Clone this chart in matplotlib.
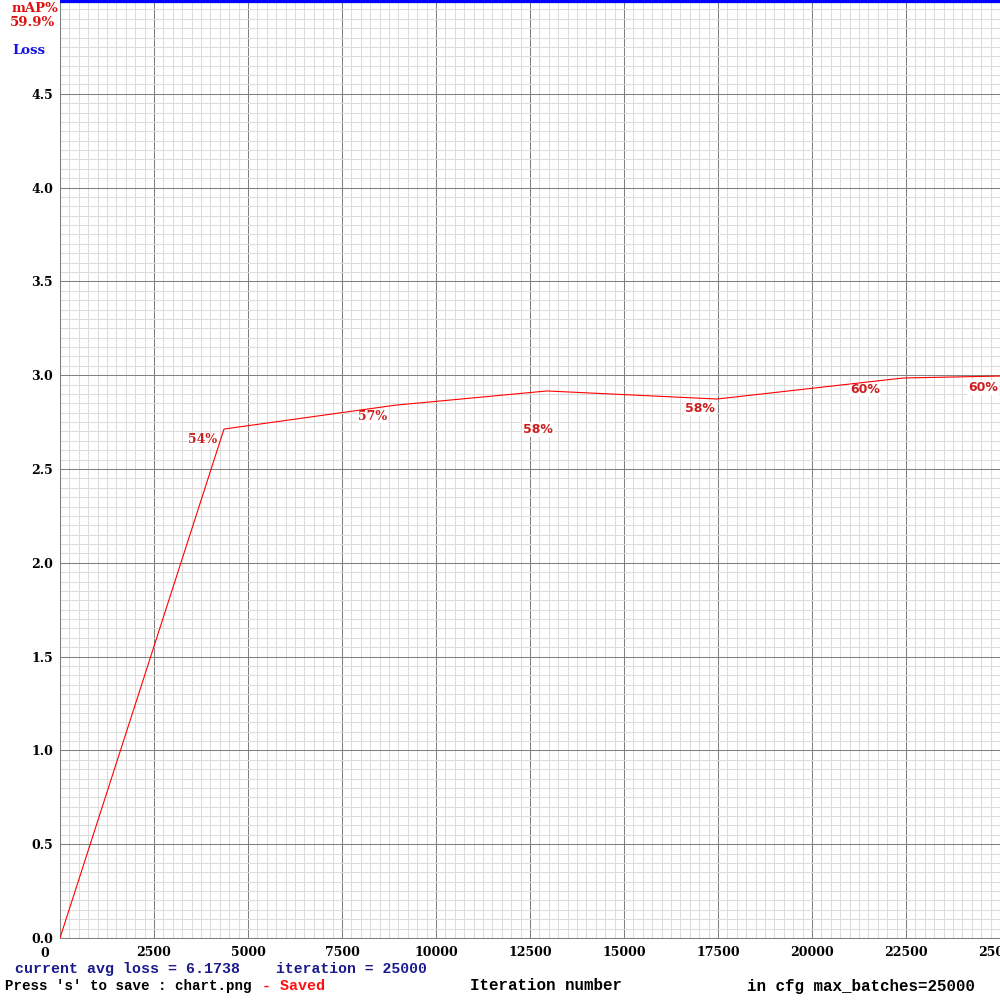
import numpy as np
import matplotlib
matplotlib.use("Agg")
import matplotlib.pyplot as plt
from matplotlib.ticker import MultipleLocator

# mAP checkpoints (iteration, mAP in %)
map_iters = [0, 4362, 8910, 12952, 17473, 22420, 25000]
map_vals = [0.0, 54.26, 56.8, 58.32, 57.46, 59.70, 59.91]

# percentage labels drawn next to the curve (iteration, height in mAP %)
label_text = ["54%", "57%", "58%", "58%", "60%", "60%"]
label_iter = [3803, 8324, 12713, 17021, 21410, 24548]
label_pos = [53.1, 55.65, 54.2, 56.4, 58.5, 58.7]
label_serif = [True, True, False, False, False, False]

# avg loss stays above the top of the chart, so it is clipped there
loss_iters = [0, 25000]
loss_vals = [6.1738, 6.1738]

max_batches = 25000
max_loss = 5.0
yticks = [0.0, 0.5, 1.0, 1.5, 2.0, 2.5, 3.0, 3.5, 4.0, 4.5]
xticks = [0, 2500, 5000, 7500, 10000, 12500, 15000, 17500, 20000, 22500, 25000]

fig = plt.figure(figsize=(10, 10), dpi=100)
ax = fig.add_axes([0.06, 0.062, 0.94, 0.938])
ax.set_xlim(0, max_batches)
ax.set_ylim(0, max_loss)

ax.xaxis.set_minor_locator(MultipleLocator(250))
ax.yaxis.set_minor_locator(MultipleLocator(0.05))
ax.set_xticks(xticks)
ax.set_xticklabels([""] + [str(t) for t in xticks[1:]])
ax.set_yticks(yticks)
ax.set_yticklabels(["%.1f" % v for v in yticks])
ax.grid(which="minor", color="#dcdcdc", lw=0.75)
ax.grid(which="major", color="#808080", lw=0.75)
ax.set_axisbelow(True)
ax.tick_params(which="both", length=0)
ax.tick_params(axis="y", pad=5)
ax.tick_params(axis="x", pad=6)
for lab in ax.get_xticklabels() + ax.get_yticklabels():
    lab.set_fontfamily("DejaVu Serif")
    lab.set_fontweight("bold")
    lab.set_fontsize(9)
for s in ["top", "right"]:
    ax.spines[s].set_visible(False)
for s in ["left", "bottom"]:
    ax.spines[s].set_color("#808080")
    ax.spines[s].set_linewidth(0.75)

# the "0" tick label sits a bit left of the origin
ax.text(-400, -0.05, "0", ha="center", va="top",
        fontfamily="DejaVu Serif", fontweight="bold", fontsize=9, clip_on=False)

# loss (clipped)
ax.plot(loss_iters, np.minimum(loss_vals, max_loss), color="#0000ff", lw=4.5, zorder=4)

# mAP line scaled so 100% is the top of the chart
ax.plot(map_iters, np.array(map_vals) / 100 * max_loss, color="#ff0000", lw=0.8, zorder=4)

for t, xi, yp, serif in zip(label_text, label_iter, label_pos, label_serif):
    ax.text(xi, yp / 100 * max_loss, t, ha="center", va="center",
            color="#cc1e1e", fontsize=9, fontweight="bold",
            fontfamily="DejaVu Serif" if serif else "DejaVu Sans", zorder=3,
            bbox=dict(facecolor="white", edgecolor="none", pad=0.5))

# header labels
fig.text(0.012, 0.992, "mAP%", color="#dd1111", fontsize=9.5,
         fontfamily="DejaVu Serif", fontweight="bold", va="center")
fig.text(0.010, 0.978, "%.1f%%" % map_vals[-1], color="#dd1111", fontsize=9.5,
         fontfamily="DejaVu Serif", fontweight="bold", va="center")
fig.text(0.012, 0.949, "Loss", color="#1414e6", fontsize=9.5,
         fontfamily="DejaVu Serif", fontweight="bold", va="center")

# footer
mono = dict(fontfamily="Liberation Mono", fontweight="bold", va="center")
fig.text(0.015, 0.031, "current avg loss = %.4f" % loss_vals[-1], color="#1a1a8c",
         fontsize=10.8, **mono)
fig.text(0.276, 0.031, "iteration = %d" % max_batches, color="#1a1a8c",
         fontsize=10.6, **mono)
fig.text(0.005, 0.014, "Press 's' to save : chart.png", color="black",
         fontsize=10.2, **mono)
fig.text(0.262, 0.014, "- Saved", color="#ff1010", fontsize=10.8, **mono)
fig.text(0.470, 0.014, "Iteration number", color="black", fontsize=11.4, **mono)
fig.text(0.747, 0.014, "in cfg max_batches=%d" % max_batches, color="black",
         fontsize=11.4, **mono)

fig.savefig("out.png", dpi=100)
